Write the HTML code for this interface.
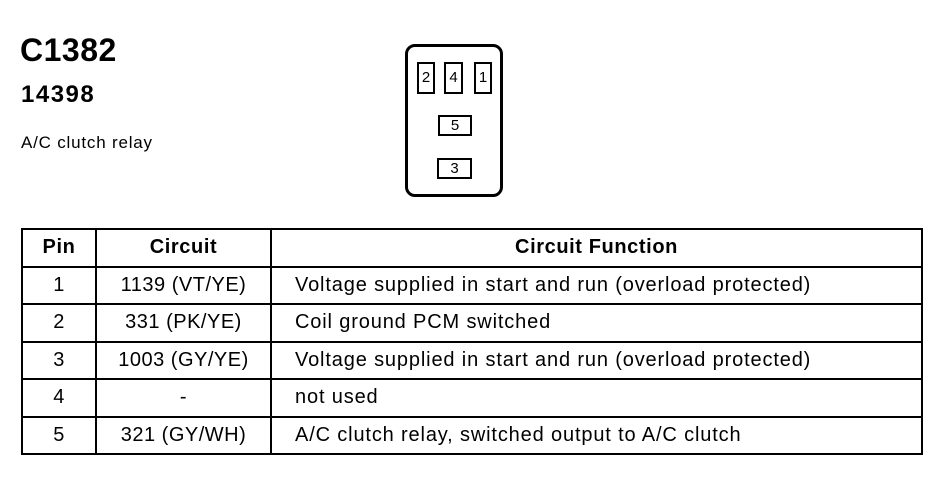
<!DOCTYPE html>
<html><head><style>
body{margin:0;width:944px;height:480px;background:#fff;font-family:"Liberation Sans",sans-serif;color:#000;position:relative;overflow:hidden}
.a{position:absolute}
.b{position:absolute;border:2px solid #000;box-sizing:border-box;text-align:center;font-size:15px}
table{position:absolute;left:21px;top:228px;border-collapse:collapse;width:902px}
tr{height:37.5px}
td{border:2px solid #000;font-size:20px;padding:0;text-align:center;letter-spacing:0.5px}
td.f{text-align:left;padding-left:23px;letter-spacing:0.85px}
th{border:2px solid #000;font-size:20px;font-weight:bold;letter-spacing:0.6px}
</style></head><body>
<div class="a" style="left:20px;top:32px;font-size:32px;font-weight:bold;letter-spacing:0.5px">C1382</div>
<div class="a" style="left:21px;top:81px;font-size:24px;font-weight:bold;letter-spacing:1.5px">14398</div>
<div class="a" style="left:21px;top:133px;font-size:17px;letter-spacing:0.8px">A/C clutch relay</div>
<div class="a" style="left:405px;top:44px;width:98px;height:153px;border:3px solid #000;border-radius:10px;box-sizing:border-box"></div>
<div class="b" style="left:417px;top:62px;width:18px;height:32px;line-height:28px">2</div>
<div class="b" style="left:444px;top:62px;width:19px;height:32px;line-height:28px">4</div>
<div class="b" style="left:474px;top:62px;width:18px;height:32px;line-height:28px">1</div>
<div class="b" style="left:438px;top:115px;width:34px;height:21px;line-height:17px">5</div>
<div class="b" style="left:437px;top:158px;width:35px;height:21px;line-height:17px">3</div>
<table>
<tr><th style="width:70px">Pin</th><th style="width:171px">Circuit</th><th>Circuit Function</th></tr>
<tr><td>1</td><td>1139 (VT/YE)</td><td class="f">Voltage supplied in start and run (overload protected)</td></tr>
<tr><td>2</td><td>331 (PK/YE)</td><td class="f">Coil ground PCM switched</td></tr>
<tr><td>3</td><td>1003 (GY/YE)</td><td class="f">Voltage supplied in start and run (overload protected)</td></tr>
<tr><td>4</td><td>-</td><td class="f">not used</td></tr>
<tr><td>5</td><td>321 (GY/WH)</td><td class="f">A/C clutch relay, switched output to A/C clutch</td></tr>
</table>
</body></html>
